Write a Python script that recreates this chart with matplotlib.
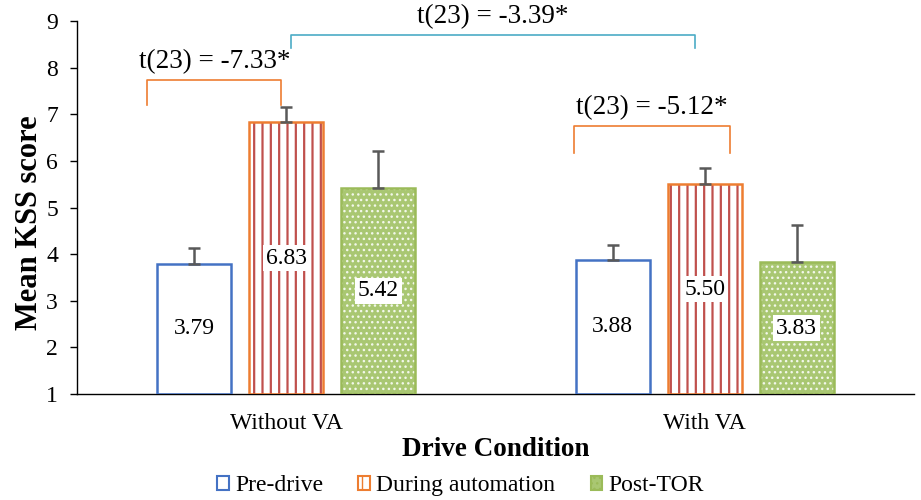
import numpy as np
import matplotlib.pyplot as plt
from matplotlib.patches import Patch

plt.rcParams["font.family"] = ["Liberation Serif", "DejaVu Serif"]

conditions = ["Without VA", "With VA"]
phases = ["Pre-drive", "During automation", "Post-TOR"]
means = {
    "Pre-drive": [3.79, 3.88],
    "During automation": [6.83, 5.50],
    "Post-TOR": [5.42, 3.83],
}
errors = {
    "Pre-drive": [0.34, 0.32],
    "During automation": [0.32, 0.35],
    "Post-TOR": [0.79, 0.80],
}
# t-test brackets: x0, x1, top, foot, label, colour
tests = [
    (-0.333, -0.012, 7.74, 7.20, "t(23) = -7.33*", "#ED7D31"),
    (0.012, 0.976, 8.70, 8.42, "t(23) = -3.39*", "#4BACC6"),
    (0.687, 1.062, 6.75, 6.17, "t(23) = -5.12*", "#ED7D31"),
]

edge = {"Pre-drive": "#4472C4", "During automation": "#ED7D31", "Post-TOR": "#9BBB59"}
face = {"Pre-drive": "white", "During automation": "white", "Post-TOR": "#A9C772"}
hatch = {"Pre-drive": None, "During automation": "||", "Post-TOR": "..."}
hcol = {"Pre-drive": "white", "During automation": "#C0504D", "Post-TOR": "#F2F7EA"}
hlw = {"Pre-drive": 1.0, "During automation": 1.6, "Post-TOR": 1.0}

fig = plt.figure(figsize=(9.21, 5), dpi=100)
ax = fig.add_axes([0.084, 0.212, 0.908, 0.746])

x = np.arange(len(conditions))
w = 0.177
offsets = [-0.22, 0, 0.22]
base = 1

for off, ph in zip(offsets, phases):
    vals = np.array(means[ph])
    xs = x + off
    with plt.rc_context({"hatch.linewidth": hlw[ph]}):
        ax.bar(xs, vals - base, w, bottom=base, color=face[ph], edgecolor=hcol[ph],
               hatch=hatch[ph], linewidth=0, zorder=2)
    ax.bar(xs, vals - base, w, bottom=base, fill=False, edgecolor=edge[ph],
           linewidth=1.8, zorder=3)
    ax.errorbar(xs, vals, yerr=[np.zeros_like(vals), errors[ph]], fmt="none",
                ecolor="#595959", elinewidth=1.8, capsize=4, capthick=1.8, zorder=4)
    for xi, v in zip(xs, vals):
        ax.text(xi, (v + base) / 2, f"{v:.2f}", ha="center", va="center", fontsize=17,
                zorder=5, bbox=dict(facecolor="white", edgecolor="none", pad=2))

for x0, x1, ytop, ybot, txt, col in tests:
    ax.plot([x0, x0, x1, x1], [ybot, ytop, ytop, ybot], color=col, lw=1.2,
            clip_on=False, zorder=4)
    ax.text((x0 + x1) / 2, ytop + 0.12, txt, ha="center", va="bottom", fontsize=19.5)

ax.set_xlim(-0.5, 1.5)
ax.set_ylim(1, 9)
ax.set_yticks(range(1, 10))
ax.set_xticks(x)
ax.set_xticklabels(conditions, fontsize=17)
ax.tick_params(axis="x", length=0, pad=14)
ax.tick_params(axis="y", labelsize=17, length=5, width=1, pad=9)
ax.spines["top"].set_visible(False)
ax.spines["right"].set_visible(False)
ax.spines["left"].set_linewidth(1)
ax.spines["bottom"].set_linewidth(1)
ax.set_ylabel("Mean KSS score", fontsize=22, fontweight="bold")
ax.yaxis.set_label_coords(-0.04, 0.46)
ax.set_xlabel("Drive Condition", fontsize=19.5, fontweight="bold", labelpad=2)

handles = []
for ph in phases:
    with plt.rc_context({"hatch.linewidth": hlw[ph]}):
        handles.append(Patch(facecolor=face[ph], edgecolor=edge[ph], hatch=hatch[ph],
                             linewidth=1.5))
fig.legend(handles, phases, loc="lower center", ncol=3, frameon=False, fontsize=17,
           bbox_to_anchor=(0.5, -0.035), handlelength=0.5, handleheight=0.5,
           handletextpad=0.25, columnspacing=1.5)

plt.savefig("out.png", dpi=100)
plt.close()
